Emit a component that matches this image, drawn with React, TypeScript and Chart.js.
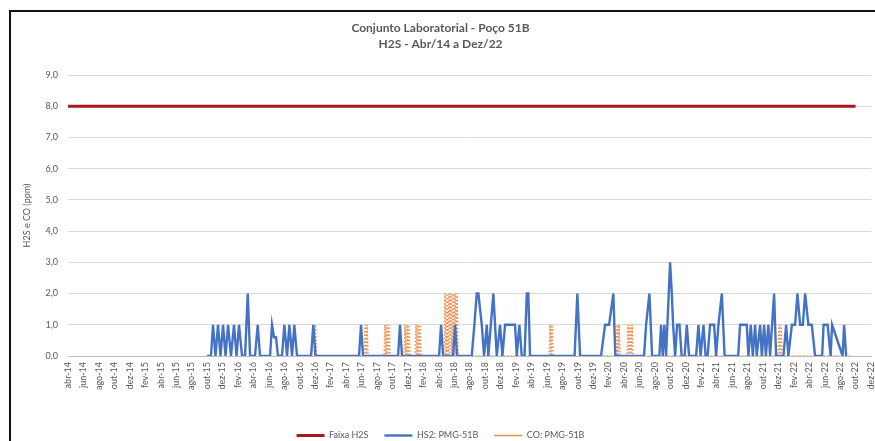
import { useEffect, useRef } from 'react';
import { Chart, registerables } from 'chart.js';

Chart.register(...registerables);

// x values are months elapsed since abr-14 (0 = abr-14, 104 = dez-22)
const tickLabels = [
  'abr-14', 'jun-14', 'ago-14', 'out-14', 'dez-14',
  'fev-15', 'abr-15', 'jun-15', 'ago-15', 'out-15', 'dez-15',
  'fev-16', 'abr-16', 'jun-16', 'ago-16', 'out-16', 'dez-16',
  'fev-17', 'abr-17', 'jun-17', 'ago-17', 'out-17', 'dez-17',
  'fev-18', 'abr-18', 'jun-18', 'ago-18', 'out-18', 'dez-18',
  'fev-19', 'abr-19', 'jun-19', 'ago-19', 'out-19', 'dez-19',
  'fev-20', 'abr-20', 'jun-20', 'ago-20', 'out-20', 'dez-20',
  'fev-21', 'abr-21', 'jun-21', 'ago-21', 'out-21', 'dez-21',
  'fev-22', 'abr-22', 'jun-22', 'ago-22', 'out-22', 'dez-22',
];

const faixaT = [0, 102];
const faixaV = [8, 8];

const h2sT = [
  18.0, 18.52, 18.78, 19.1, 19.43, 19.75, 20.08, 20.4, 20.73, 21.11, 21.5, 21.83, 22.15, 22.54,
  22.93, 23.28, 23.58, 24.22, 24.57, 24.87, 26.17, 26.42, 26.68, 26.94, 27.2, 27.72, 28.02, 28.37,
  28.67, 29.02, 29.31, 29.66, 31.48, 31.77, 32.06, 37.69, 37.95, 38.21, 42.75, 43.0, 43.26, 48.06,
  48.32, 48.58, 49.87, 50.13, 50.39, 52.29, 52.63, 52.94, 53.15, 53.59, 53.89, 54.24, 54.44, 55.09,
  55.53, 55.96, 56.26, 56.61, 57.9, 58.12, 58.46, 58.77, 59.13, 59.42, 59.62, 59.84, 65.61, 65.97,
  66.32, 69.04, 69.56, 70.08, 70.63, 70.89, 74.61, 74.87, 75.3, 75.65, 76.59, 76.81, 77.03, 77.24,
  77.46, 77.63, 77.98, 78.2, 78.37, 78.63, 78.89, 79.2, 79.47, 79.86, 80.14, 80.44, 81.35, 81.65,
  81.93, 82.3, 82.58, 82.84, 83.16, 83.68, 83.94, 84.24, 84.68, 85.04, 86.79, 87.05, 87.91, 88.12,
  88.43, 88.69, 88.99, 89.2, 89.64, 89.86, 90.16, 90.38, 90.71, 90.93, 91.45, 91.71, 92.66, 93.01,
  93.3, 93.75, 94.17, 94.47, 94.82, 95.17, 95.47, 95.89, 96.33, 96.76, 97.67, 97.86, 98.38, 98.77,
  98.96, 100.32, 100.52, 100.78,
];
const h2sV = [
  0, 0, 1, 0, 1, 0, 1, 0, 1, 0, 1, 0, 1, 0,
  0, 2, 0, 0, 1, 0, 0, 1, 0.6, 0.6, 0, 0, 1, 0,
  1, 0, 1, 0, 0, 1, 0, 0, 1, 0, 0, 1, 0, 0,
  1, 0, 0, 1, 0, 0, 1, 2, 2, 1, 0, 1, 0, 2,
  0, 1, 0, 1, 1, 0, 1, 0, 0, 2, 2, 0, 0, 2,
  0, 0, 1, 1, 2, 0, 0, 1, 2, 0, 0, 1, 0, 1,
  0, 1, 3, 2, 1, 0, 1, 1, 0, 0, 1, 0, 0, 1,
  0, 1, 0, 0, 1, 1, 0, 1, 2, 0, 0, 1, 1, 0,
  1, 0, 1, 0, 1, 0, 1, 0, 1, 0, 2, 0, 0, 1,
  0, 1, 1, 2, 1, 1, 2, 1, 1, 0, 0, 1, 1, 0,
  1, 0, 1, 0,
];

const coT = [
  31.54, 31.8, 31.93, 32.06, 32.19, 38.34, 38.47, 38.6, 38.73, 38.86, 40.93, 41.06, 41.19, 41.32,
  41.45, 41.58, 41.71, 43.52, 43.65, 43.78, 43.91, 44.04, 44.17, 44.3, 44.95, 45.08, 45.21, 45.34,
  45.47, 45.6, 45.73, 48.7, 48.83, 48.96, 49.09, 49.22, 49.35, 49.48, 49.61, 49.74, 49.87, 50.0,
  50.13, 50.26, 50.39, 50.52, 62.31, 62.44, 62.56, 62.69, 62.82, 70.98, 71.11, 71.24, 71.37, 71.5,
  72.41, 72.54, 72.67, 72.8, 72.93, 73.06, 73.19, 91.97, 92.1, 92.23, 92.36, 92.49, 101.3,
];
const coV = [
  0, 1, 0, 1, 0, 0, 1, 0, 1, 0, 0, 1, 0, 1,
  0, 1, 0, 0, 1, 0, 1, 0, 1, 0, 0, 1, 0, 1,
  0, 1, 0, 0, 2, 0, 2, 0, 2, 0, 2, 0, 2, 0,
  2, 0, 2, 0, 0, 1, 0, 1, 0, 0, 1, 0, 1, 0,
  0, 1, 0, 1, 0, 1, 0, 0, 1, 0, 1, 0, 0,
];

const FONT = "Lato, 'Open Sans', sans-serif";
const TEXT = '#595959';

const toPoints = (t: number[], v: number[]) => t.map((x, i) => ({ x, y: v[i] }));

export default function App() {
  const ref = useRef<HTMLCanvasElement | null>(null);

  useEffect(() => {
    if (!ref.current) return;
    const chart = new Chart(ref.current, {
      type: 'line',
      data: {
        datasets: [
          {
            label: 'Faixa H2S',
            data: toPoints(faixaT, faixaV),
            borderColor: '#AE1620',
            backgroundColor: '#AE1620',
            borderWidth: 3,
            pointRadius: 0,
            pointStyle: 'line',
            tension: 0,
          },
          {
            label: 'HS2: PMG-51B',
            data: toPoints(h2sT, h2sV),
            borderColor: '#4472C4',
            backgroundColor: '#4472C4',
            borderWidth: 2.4,
            pointRadius: 0,
            pointStyle: 'line',
            tension: 0,
          },
          {
            label: 'CO: PMG-51B',
            data: toPoints(coT, coV),
            borderColor: '#EE8A45',
            backgroundColor: '#EE8A45',
            borderWidth: 1.5,
            borderDash: [1.5, 2],
            pointRadius: 0,
            pointStyle: 'line',
            tension: 0,
          },
        ],
      },
      options: {
        animation: false,
        responsive: false,
        maintainAspectRatio: false,
        layout: { padding: { left: 10, right: 4, top: 0, bottom: 0 } },
        plugins: {
          title: {
            display: true,
            text: ['Conjunto Laboratorial - Poço 51B', 'H2S - Abr/14 a Dez/22'],
            color: TEXT,
            font: { family: FONT, size: 12, weight: 'bold', lineHeight: 1.35 },
            padding: { top: 20, bottom: 22.6 },
          },
          legend: {
            position: 'bottom',
            labels: {
              usePointStyle: true,
              pointStyleWidth: 28,
              padding: 16,
              color: TEXT,
              font: { family: FONT, size: 9 },
            },
          },
          tooltip: { enabled: false },
        },
        scales: {
          x: {
            type: 'linear',
            min: 0,
            max: 104,
            afterBuildTicks: (s: any) => {
              s.ticks = tickLabels.map((_, i) => ({ value: i * 2 }));
            },
            afterFit: (s: any) => {
              s.height = 59;
              s.paddingLeft = 0;
              s.paddingRight = 0;
            },
            ticks: {
              autoSkip: false,
              maxRotation: 90,
              minRotation: 90,
              padding: 6,
              color: TEXT,
              font: { family: FONT, size: 9 },
              callback: (v: any) => tickLabels[Math.round(Number(v) / 2)],
            },
            grid: { display: false, drawTicks: false },
            border: { display: true, color: '#BFBFBF', width: 1 },
          },
          y: {
            min: 0,
            max: 9,
            afterFit: (s: any) => {
              s.width = 58;
              s.paddingTop = 0;
              s.paddingBottom = 0;
            },
            ticks: {
              stepSize: 1,
              padding: 10,
              color: TEXT,
              font: { family: FONT, size: 9 },
              callback: (v: any) => Number(v).toFixed(1).replace('.', ','),
            },
            grid: { color: '#D9D9D9', lineWidth: 1, drawTicks: false },
            border: { display: false },
            title: {
              display: true,
              text: 'H2S e CO (ppm)',
              color: TEXT,
              font: { family: FONT, size: 9 },
              padding: { top: 12, bottom: 0 },
            },
          },
        },
      },
    });
    return () => chart.destroy();
  }, []);

  return (
    <div style={{ position: 'fixed', left: 0, top: 0, width: 875, height: 450, background: '#fff' }}>
      <canvas ref={ref} width={875} height={450} style={{ display: 'block', width: 875, height: 450 }} />
      <div
        style={{
          position: 'absolute',
          left: 9,
          top: 10,
          width: 900,
          height: 500,
          borderLeft: '2px solid #111',
          borderTop: '2px solid #111',
          pointerEvents: 'none',
        }}
      />
    </div>
  );
}
